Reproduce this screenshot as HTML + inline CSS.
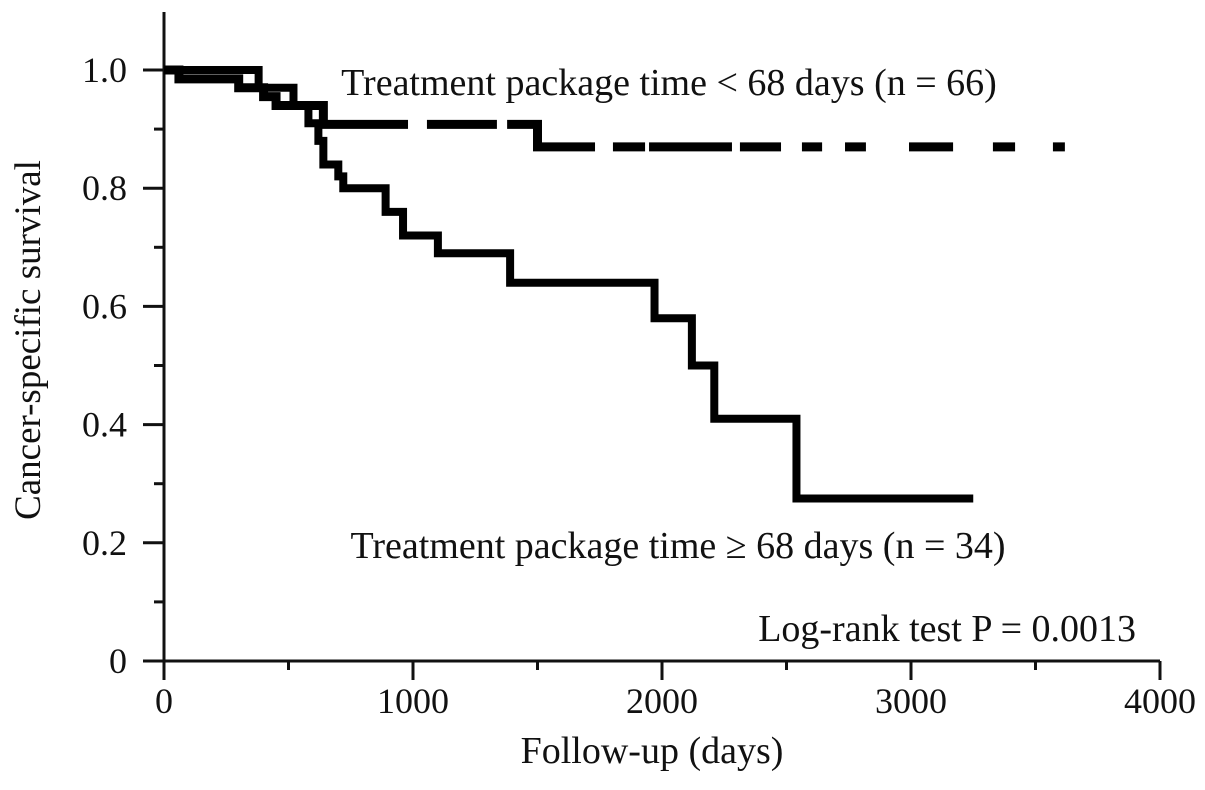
<!DOCTYPE html>
<html><head><meta charset="utf-8"><style>
body{margin:0;background:#fff;}
svg text{font-family:"Liberation Serif",serif;fill:#111;}
</style></head><body>
<svg width="1205" height="785">
<g id="axes"></g>
<g id="curves"></g>
<text x="669" y="95" font-size="38" text-anchor="middle">Treatment package time &lt; 68 days (n = 66)</text>
<text x="678" y="558" font-size="38" text-anchor="middle">Treatment package time ≥ 68 days (n = 34)</text>
<text x="1136" y="641" font-size="38" text-anchor="end">Log-rank test P = 0.0013</text>
<text x="652" y="763" font-size="38" text-anchor="middle">Follow-up (days)</text>
<text transform="translate(40,340) rotate(-90)" font-size="37" text-anchor="middle">Cancer-specific survival</text>
</svg>
<script>
const xTicks=[0,1000,2000,3000,4000];
const yTicks=[0,0.2,0.4,0.6,0.8,1.0];
const yTickLabels=["0","0.2","0.4","0.6","0.8","1.0"];
const shortTimes=[0,60,240,300,400,450,640,1500,3618];
const shortSurv=[1.0,0.985,0.985,0.97,0.955,0.94,0.908,0.87,0.87];
const longTimes=[0,380,520,580,620,640,700,720,890,960,1100,1390,1970,2120,2210,2540,3250];
const longSurv=[1.0,0.97,0.94,0.91,0.88,0.84,0.82,0.80,0.76,0.72,0.69,0.64,0.58,0.50,0.41,0.275,0.275];
const gapStart=[980,1337,1731,1932,2281,2478,2643,2819,3169,3418];
const gapEnd=[1056,1378,1803,1948,2313,2562,2735,2992,3329,3570];
const NS="http://www.w3.org/2000/svg";
function X(t){return 164+t*0.249;}
function Y(s){return 661-s*591;}
const ax=document.getElementById('axes');
function mk(tag,attrs,parent){const e=document.createElementNS(NS,tag);for(const k in attrs)e.setAttribute(k,attrs[k]);parent.appendChild(e);return e;}
let l=mk('line',{x1:143,y1:661,x2:1160,y2:661,stroke:'#111','stroke-width':3},ax);


l=mk('line',{x1:164,y1:12,x2:164,y2:680,stroke:'#111','stroke-width':3},ax);


xTicks.forEach(t=>{
 let tk=mk('line',{x1:X(t),y1:661,x2:X(t),y2:680,stroke:'#111','stroke-width':3},ax);
 
 
 if(t<4000){let m=mk('line',{x1:X(t+500),y1:661,x2:X(t+500),y2:670,stroke:'#111','stroke-width':3},ax);
 
 }
 let tx=mk('text',{x:X(t),y:713,'font-size':36,'text-anchor':'middle'},ax);tx.textContent=String(t);
 
 
});
yTicks.forEach((v,i)=>{
 let tk=mk('line',{x1:143,y1:Y(v),x2:164,y2:Y(v),stroke:'#111','stroke-width':3},ax);
 
 
 if(v<1){let m=mk('line',{x1:154,y1:Y(v+0.1),x2:164,y2:Y(v+0.1),stroke:'#111','stroke-width':3},ax);
 
 }
 let tx=mk('text',{x:127,y:Y(v)+12,'font-size':36,'text-anchor':'end'},ax);tx.textContent=yTickLabels[i];
 
 
});
function stepPath(ts,ss){let d='M'+X(ts[0])+','+Y(ss[0]);for(let i=1;i<ts.length;i++){d+=' H'+X(ts[i])+' V'+Y(ss[i]);}return d;}
function survAt(ts,ss,t){let s=ss[0];for(let i=0;i<ts.length;i++){if(ts[i]<=t)s=ss[i];}return s;}
const cg=document.getElementById('curves');
let p=mk('path',{d:stepPath(longTimes,longSurv),fill:'none',stroke:'#000','stroke-width':8},cg);


p=mk('path',{d:stepPath(shortTimes,shortSurv),fill:'none',stroke:'#000','stroke-width':9},cg);


gapStart.forEach((g,i)=>{
 const y=Y(survAt(shortTimes,shortSurv,g));
 let w=mk('line',{x1:X(g),y1:y,x2:X(gapEnd[i]),y2:y,stroke:'#fff','stroke-width':13},cg);
 
 
});
</script>
</body></html>
